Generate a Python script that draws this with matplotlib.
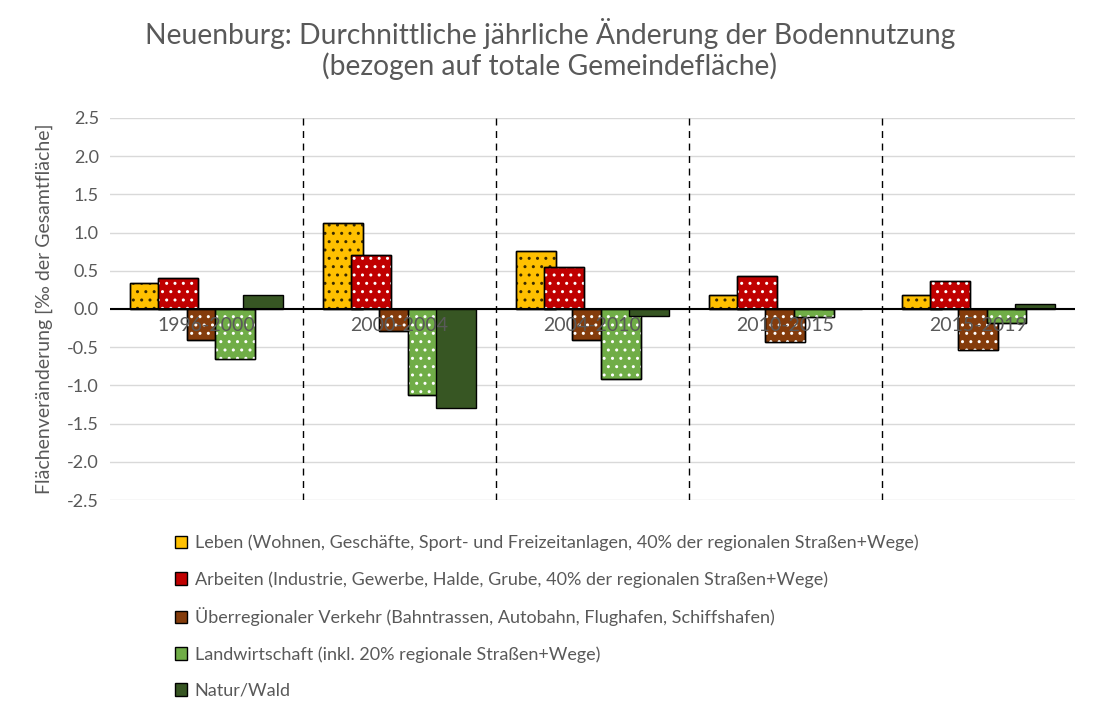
import matplotlib.pyplot as plt
import numpy as np

plt.rcParams['font.family'] = ['Lato', 'DejaVu Sans']

# Zeiträume und Werte (‰ der Gesamtfläche pro Jahr)
periods = ['1996-2000', '2000-2004', '2004-2010', '2010-2015', '2015-2019']
leben = [0.34, 1.13, 0.76, 0.18, 0.18]
arbeiten = [0.41, 0.71, 0.55, 0.43, 0.36]
verkehr = [-0.41, -0.29, -0.40, -0.43, -0.54]
landwirtschaft = [-0.66, -1.13, -0.92, -0.10, -0.18]
natur = [0.18, -1.30, -0.09, 0.0, 0.06]

labels = [
    'Leben (Wohnen, Geschäfte, Sport- und Freizeitanlagen, 40% der regionalen Straßen+Wege)',
    'Arbeiten (Industrie, Gewerbe, Halde, Grube, 40% der regionalen Straßen+Wege)',
    'Überregionaler Verkehr (Bahntrassen, Autobahn, Flughafen, Schiffshafen)',
    'Landwirtschaft (inkl. 20% regionale Straßen+Wege)',
    'Natur/Wald',
]
colors = ['#FFC000', '#C00000', '#843C0C', '#70AD47', '#375623']
dot_colors = ['#3a2a00', 'white', 'white', 'white', None]
series = [leben, arbeiten, verkehr, landwirtschaft, natur]

txt = '#595959'
fig = plt.figure(figsize=(11, 7.18), dpi=100)
ax = fig.add_axes([0.1, 0.3036, 0.877, 0.5321])

x = np.arange(len(periods))
step = 0.1466
width = 0.207
handles = []
for i, (vals, col, dc, lab) in enumerate(zip(series, colors, dot_colors, labels)):
    pos = x + (i - 2) * step
    z = 3 + 3 * i
    b = ax.bar(pos, vals, width, color=col, edgecolor='black', linewidth=1.0,
               label=lab, zorder=z)
    handles.append(b)
    if dc is not None:
        # punktiertes Muster wie im Original
        ax.bar(pos, vals, width, facecolor='none', edgecolor=dc, hatch='..',
               linewidth=0, zorder=z + 1)
        ax.bar(pos, vals, width, facecolor='none', edgecolor='black',
               linewidth=1.0, zorder=z + 2)

ax.set_xlim(-0.5, len(periods) - 0.5)
ax.set_ylim(-2.5, 2.5)
ax.set_yticks(np.arange(-2.5, 2.51, 0.5))
ax.set_yticklabels([f'{v:.1f}' for v in np.arange(-2.5, 2.51, 0.5)])
ax.tick_params(axis='y', length=0, labelsize=13, colors=txt, pad=8)
ax.set_xticks([])
ax.grid(axis='y', color='#D9D9D9', linewidth=1, zorder=0)
for s in ax.spines.values():
    s.set_visible(False)
ax.axhline(0, color='black', linewidth=1.5, zorder=20)

for k in range(1, len(periods)):
    ax.axvline(k - 0.5, color='black', linestyle=(0, (5, 4)), linewidth=1, zorder=2)

for k, p in enumerate(periods):
    ax.text(k, -0.22, p, ha='center', va='center', fontsize=14, color=txt, zorder=21)

ax.set_ylabel('Flächenveränderung [‰ der Gesamtfläche]', fontsize=14, color=txt,
              labelpad=10, family=['Lato', 'DejaVu Sans'])

fig.suptitle('Neuenburg: Durchnittliche jährliche Änderung der Bodennutzung\n(bezogen auf totale Gemeindefläche)',
             y=0.975, fontsize=20.3, color=txt, linespacing=1.15)

fig.legend(handles=handles, labels=labels, loc='upper left',
           bbox_to_anchor=(0.144, 0.278), frameon=False, fontsize=13,
           labelcolor=txt, handlelength=0.7, handleheight=0.7,
           handletextpad=0.4, labelspacing=1.1)

fig.savefig('out.png', dpi=100)
